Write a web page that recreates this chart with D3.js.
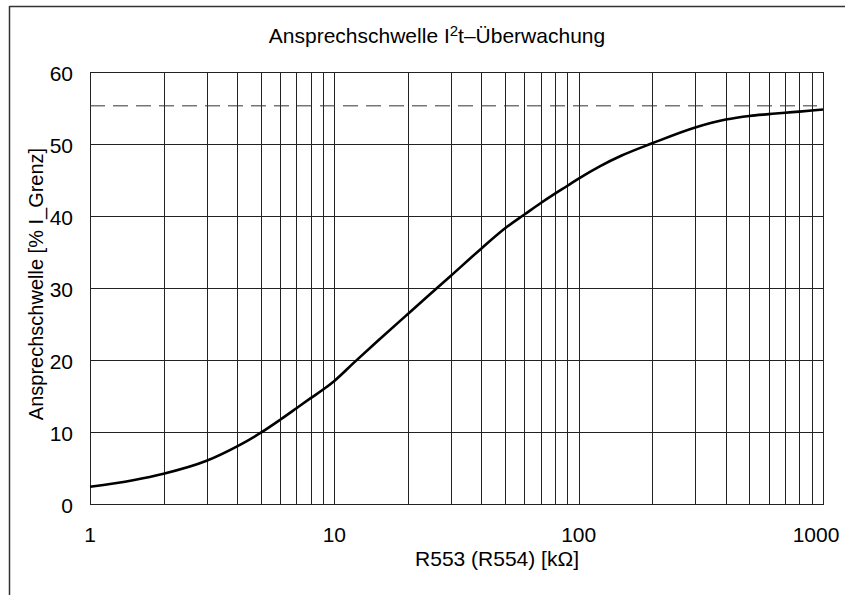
<!DOCTYPE html>
<html><head><meta charset="utf-8">
<script src="https://cdn.jsdelivr.net/npm/d3@7"></script>
<style>
html,body{margin:0;padding:0;background:#fff;}
svg text{font-family:"Liberation Sans",Arial,sans-serif;fill:#000;}
</style></head>
<body><svg id="c" width="845" height="595"></svg>
<script>
const resistance = [1,1.5,2,3,4,5,6,7,8,9,10,12,15,20,30,40,50,60,70,80,90,100,122,150,200,300,400,500,600,700,800,900,1000];
const threshold = [2.4,3.3,4.2,6.0,8.0,9.9,11.7,13.3,14.7,15.9,17.1,19.6,22.6,26.4,31.7,35.5,38.3,40.2,41.8,43.1,44.2,45.2,46.9,48.4,50.1,52.3,53.4,53.9,54.15,54.35,54.5,54.65,54.8];
const limitValue = 55.3;
const xTicks = [1,10,100,1000];
const yTicks = [0,10,20,30,40,50,60];
const titleMain = "Ansprechschwelle I";
const titleSup = "2";
const titleRest = "t–Überwachung";
const xLabel = "R553 (R554) [kΩ]";
const yLabel = "Ansprechschwelle [% I_Grenz]";

const svg = d3.select("#c");
const L=90,R=823,T=72,B=504;
const x = d3.scaleLog().domain([1,1000]).range([L,R]);
const y = d3.scaleLinear().domain([0,60]).range([B,T]);

// frame
svg.append("line").attr("x1",9.5).attr("x2",845).attr("y1",6.5).attr("y2",6.5).attr("stroke","#333").attr("stroke-width",1.5);
svg.append("line").attr("x1",9.5).attr("x2",9.5).attr("y1",6).attr("y2",595).attr("stroke","#333").attr("stroke-width",1.5);

// grid
const minor = [];
for (let d=1; d<1000; d*=10) for (let k=1;k<10;k++) minor.push(d*k);
minor.push(1000);
const g = svg.append("g");
g.selectAll("line.v").data(minor).enter().append("line")
 .attr("x1",d=>Math.round(x(d))+0.5).attr("x2",d=>Math.round(x(d))+0.5)
 .attr("y1",T).attr("y2",B).attr("stroke","#222").attr("stroke-width",1);
g.selectAll("line.h").data(yTicks).enter().append("line")
 .attr("y1",d=>Math.round(y(d))+0.5).attr("y2",d=>Math.round(y(d))+0.5)
 .attr("x1",L).attr("x2",R+1).attr("stroke","#222").attr("stroke-width",1);

// dashed limit
svg.append("line").attr("x1",L).attr("x2",R-6).attr("y1",y(limitValue)).attr("y2",y(limitValue))
 .attr("stroke","#333").attr("stroke-width",1).attr("stroke-dasharray","15,8");

// curve
const pts = resistance.map((r,i)=>[r,threshold[i]]);
svg.append("path").datum(pts)
 .attr("d",d3.line().x(d=>x(d[0])).y(d=>y(d[1])).curve(d3.curveMonotoneX))
 .attr("fill","none").attr("stroke","#000").attr("stroke-width",2.6);

// tick labels
svg.selectAll("text.yt").data(yTicks).enter().append("text")
 .attr("x",73).attr("y",d=>y(d)+9).attr("text-anchor","end")
 .attr("font-size",21).text(d=>d);
svg.selectAll("text.xt").data(xTicks).enter().append("text")
 .attr("x",d=>x(d)).attr("dx",d=>d===1000?-7:0).attr("y",542).attr("text-anchor","middle")
 .attr("font-size",21).text(d=>d);

// titles
const t = svg.append("text").attr("x",437).attr("y",43).attr("text-anchor","middle").attr("font-size",21);
t.append("tspan").text(titleMain);
t.append("tspan").attr("font-size",15).attr("dy",-7).text(titleSup);
t.append("tspan").attr("dy",7).text(titleRest);

svg.append("text").attr("x",497).attr("y",566).attr("text-anchor","middle").attr("font-size",21).text(xLabel);
svg.append("text").attr("transform","translate(43,284) rotate(-90)").attr("text-anchor","middle").attr("font-size",20).text(yLabel);
</script></body></html>
